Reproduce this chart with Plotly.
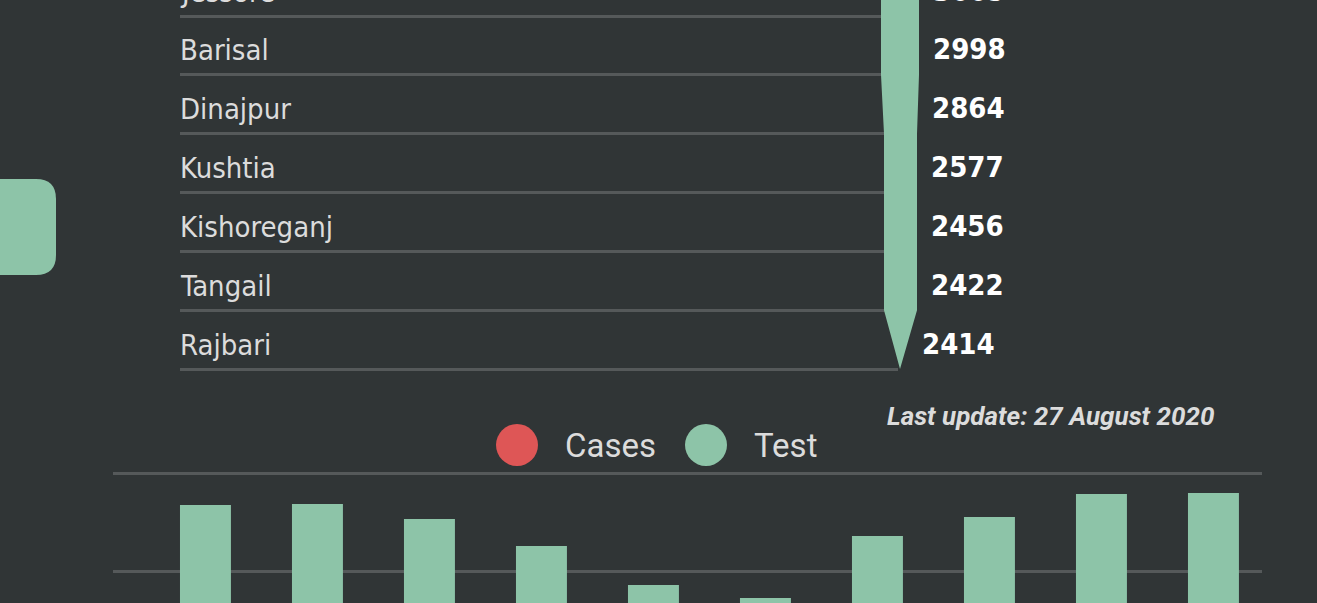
import plotly.graph_objects as go

# ---------------- data ----------------
districts = ["Jessore", "Barisal", "Dinajpur", "Kushtia", "Kishoreganj", "Tangail", "Rajbari"]
district_values = [3009, 2998, 2864, 2577, 2456, 2422, 2414]

dates = ["18 Aug", "19 Aug", "20 Aug", "21 Aug", "22 Aug", "23 Aug", "24 Aug", "25 Aug", "26 Aug", "27 Aug"]
tests = [13370, 13420, 12650, 11280, 9290, 8620, 11790, 12760, 13930, 13980]

legend_labels = ["Cases", "Test"]
update_text = "Last update: 27 August 2020"

# ---------------- style ----------------
W, H = 1317, 603
BG = "#303536"
GREEN = "#8dc4a8"
RED = "#de5656"
GRID = "#55595a"
TXT = "#dcdcdc"
NARROW = "Liberation Sans Narrow, DejaVu Sans Condensed, Roboto, sans-serif"


def fx(px):
    return px / W


def fy(py):
    return 1 - py / H


ROW_PX = 58.83  # pixel height of one table row
Y2_DOMAIN = [fy(375), 1.0]
Y2_RANGE = [6.5 + 6 / ROW_PX, 0.5 - 16 / ROW_PX]  # reversed: bottom value, top value


def row_to_paper(r):
    # same linear map the y2 axis uses (domain + range)
    lo, hi = Y2_RANGE
    t = (r - lo) / (hi - lo)
    return Y2_DOMAIN[0] + t * (Y2_DOMAIN[1] - Y2_DOMAIN[0])


fig = go.Figure()

# bottom bar chart (Test)
fig.add_trace(go.Bar(
    x=dates, y=tests, name=legend_labels[1], marker=dict(color=GREEN, line=dict(width=0)),
    width=0.455, offset=0, xaxis="x", yaxis="y", hoverinfo="x+y", showlegend=False,
))

rows = list(range(len(districts)))
# invisible trace anchoring the table axes
fig.add_trace(go.Scatter(x=[0] * len(rows), y=rows, mode="markers", marker=dict(opacity=0),
                         xaxis="x2", yaxis="y2", showlegend=False, hoverinfo="skip"))

# pencil outline (left/right edges in px, y in row units)
pencil_pts = [(-2.0, 881, 919), (1.5, 881, 919), (2.5, 884, 917), (5.5, 884, 917)]
tip = (6.5, 900)


def right_edge(r):
    if r >= 5.5:
        t = (r - 5.5) / (tip[0] - 5.5)
        return 917 + (tip[1] - 917) * t
    for (y0, l0, r0), (y1, l1, r1) in zip(pencil_pts[:-1], pencil_pts[1:]):
        if y0 <= r <= y1:
            t = (r - y0) / (y1 - y0)
            return r0 + (r1 - r0) * t
    return pencil_pts[0][2]


shapes = []
annotations = []

path = "M " + " L ".join(f"{fx(l)},{y}" for y, l, r in pencil_pts)
path += f" L {fx(tip[1])},{tip[0]}"
path += " L " + " L ".join(f"{fx(r)},{y}" for y, l, r in reversed(pencil_pts)) + " Z"
shapes.append(dict(type="path", xref="paper", yref="y2", path=path,
                   fillcolor=GREEN, line=dict(width=0), layer="above"))

for i, (name, val) in enumerate(zip(districts, district_values)):
    annotations.append(dict(x=fx(180), y=row_to_paper(i), xref="paper", yref="paper", text=name,
                            xanchor="left", yanchor="middle", showarrow=False, yshift=-5,
                            xshift=-2, font=dict(family=NARROW, size=29, color=TXT)))
    annotations.append(dict(x=fx(right_edge(i) + 12), y=row_to_paper(i), xref="paper",
                            yref="paper", text=f"<b>{val}</b>", xanchor="left",
                            yanchor="middle", showarrow=False, yshift=-4,
                            font=dict(family=NARROW, size=29, color="#ffffff")))

# rounded card on the left
x0, x1, y0, y1, rr = -30, 56, 179, 275, 20
card = (f"M {fx(x0)},{fy(y0)} L {fx(x1 - rr)},{fy(y0)} "
        f"Q {fx(x1)},{fy(y0)} {fx(x1)},{fy(y0 + rr)} "
        f"L {fx(x1)},{fy(y1 - rr)} Q {fx(x1)},{fy(y1)} {fx(x1 - rr)},{fy(y1)} "
        f"L {fx(x0)},{fy(y1)} Z")
shapes.append(dict(type="path", xref="paper", yref="paper", path=card,
                   fillcolor=GREEN, line=dict(width=0)))

# legend (circles + text)
for (cx, label, col) in [(517, legend_labels[0], RED), (706, legend_labels[1], GREEN)]:
    shapes.append(dict(type="circle", xref="paper", yref="paper",
                       x0=fx(cx - 21), x1=fx(cx + 21), y0=fy(445 + 21), y1=fy(445 - 21),
                       fillcolor=col, line=dict(width=0)))
    annotations.append(dict(x=fx(cx + 46), y=fy(445), xref="paper", yref="paper", text=label,
                            xanchor="left", yanchor="middle", showarrow=False,
                            font=dict(family="Roboto", size=33, color=TXT)))

annotations.append(dict(x=fx(1216), y=fy(416), xref="paper", yref="paper",
                        text=f"<b><i>{update_text}</i></b>", xanchor="right", yanchor="middle",
                        showarrow=False, font=dict(family="Roboto", size=26, color=TXT)))

px_per_val = 98 / 5000
fig.update_layout(
    width=W, height=H, margin=dict(l=0, r=0, t=0, b=0),
    paper_bgcolor=BG, plot_bgcolor=BG, showlegend=False,
    xaxis=dict(domain=[fx(113), fx(1262)], range=[-0.598, 9.661], showticklabels=False,
               showgrid=False, zeroline=False, showline=False, ticks="", anchor="y",
               type="category"),
    yaxis=dict(domain=[0, fy(465)], range=[15000 - (603 - 473) / px_per_val, 15000 + 8 / px_per_val],
               tickvals=[10000, 15000], showticklabels=False, showgrid=True,
               gridcolor=GRID, gridwidth=3, zeroline=False, showline=False, anchor="x"),
    xaxis2=dict(domain=[fx(180), fx(898)], range=[0, 1], visible=False, anchor="y2"),
    yaxis2=dict(domain=Y2_DOMAIN, range=Y2_RANGE, tickvals=[i + 0.5 for i in rows],
                showticklabels=False, showgrid=True, gridcolor=GRID, gridwidth=2.5,
                zeroline=False, showline=False, anchor="x2"),
    shapes=shapes, annotations=annotations,
)

fig.write_html(
    "out.html",
    config={"displayModeBar": False},
    post_script="document.body.style.margin='0';document.body.style.background='#303536';",
)
